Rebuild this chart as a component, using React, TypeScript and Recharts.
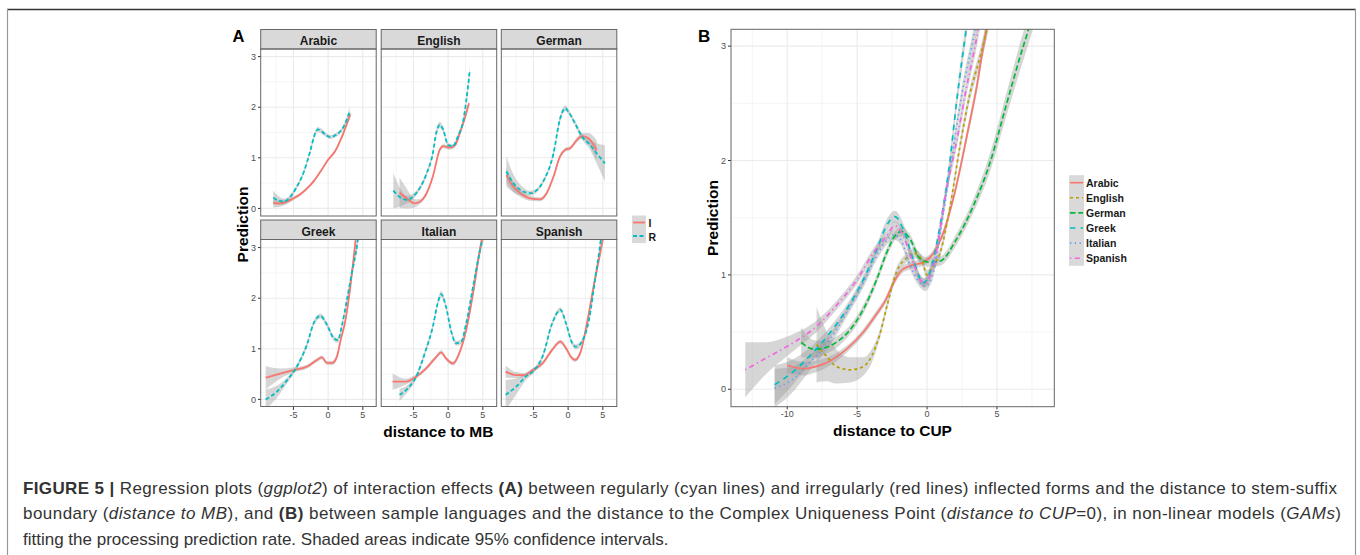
import React from 'react';
import { ComposedChart, Area, Line, XAxis, YAxis, CartesianGrid } from 'recharts';

// each row: [distance, fitted prediction, half width of the 95% band]
const arabicIrr = [[-7.9, 0.11, 0.09], [-7, 0.1, 0.07], [-6, 0.13, 0.05], [-5, 0.2, 0.04], [-4, 0.28, 0.03], [-3, 0.4, 0.03], [-2, 0.55, 0.03], [-1, 0.75, 0.03], [0, 0.96, 0.03], [1, 1.13, 0.03], [2, 1.42, 0.04], [3.2, 1.86, 0.07]];
const arabicReg = [[-7.9, 0.21, 0.14], [-7, 0.15, 0.08], [-6.4, 0.13, 0.06], [-5.5, 0.22, 0.04], [-4.5, 0.43, 0.04], [-3.5, 0.72, 0.04], [-2.6, 1.12, 0.04], [-1.9, 1.47, 0.05], [-1.5, 1.56, 0.05], [-0.9, 1.52, 0.05], [-0.3, 1.45, 0.04], [0.3, 1.41, 0.04], [1.1, 1.45, 0.04], [2.3, 1.63, 0.05], [3.1, 1.91, 0.1]];
const englishIrr = [[-7, 0.31, 0.3], [-6, 0.2, 0.2], [-4.8, 0.1, 0.08], [-4.1, 0.13, 0.05], [-3.1, 0.3, 0.04], [-2.2, 0.63, 0.04], [-1.2, 1.16, 0.04], [-0.7, 1.23, 0.04], [0.2, 1.2, 0.04], [1, 1.25, 0.04], [1.7, 1.49, 0.04], [2.4, 1.78, 0.05], [3, 2.08, 0.07]];
const englishReg = [[-7.9, 0.35, 0.35], [-6.7, 0.2, 0.15], [-6, 0.17, 0.08], [-4.6, 0.3, 0.05], [-3.1, 0.69, 0.05], [-2.2, 1.09, 0.05], [-1.7, 1.5, 0.06], [-1.2, 1.65, 0.06], [-0.7, 1.55, 0.05], [0, 1.25, 0.04], [0.7, 1.23, 0.04], [1.4, 1.42, 0.05], [2.2, 1.75, 0.06], [2.6, 2.11, 0.08], [3.1, 2.7, 0.12]];
const germanIrr = [[-8.9, 0.66, 0.15], [-7.9, 0.43, 0.1], [-6.9, 0.3, 0.07], [-5.5, 0.2, 0.05], [-4, 0.18, 0.04], [-3.1, 0.3, 0.04], [-2.1, 0.63, 0.04], [-1.2, 1.02, 0.04], [-0.4, 1.16, 0.04], [0.3, 1.19, 0.04], [1.25, 1.35, 0.05], [2, 1.43, 0.06], [2.9, 1.39, 0.1], [4.1, 1.15, 0.2]];
const germanReg = [[-8.9, 0.73, 0.3], [-7.9, 0.5, 0.18], [-6.4, 0.33, 0.08], [-5.5, 0.3, 0.05], [-4.5, 0.36, 0.04], [-3.6, 0.53, 0.04], [-2.1, 1.09, 0.05], [-1.2, 1.75, 0.06], [-0.4, 1.98, 0.06], [0, 1.92, 0.05], [1, 1.68, 0.05], [2, 1.42, 0.06], [3.2, 1.25, 0.1], [4.1, 1.09, 0.2], [5.3, 0.89, 0.36]];
const greekIrr = [[-9, 0.43, 0.23], [-6.9, 0.51, 0.1], [-5, 0.58, 0.05], [-3, 0.65, 0.04], [-1.6, 0.78, 0.04], [-0.9, 0.83, 0.04], [-0.15, 0.72, 0.04], [0.6, 0.72, 0.04], [1.3, 0.86, 0.05], [1.8, 1.17, 0.05], [2.5, 1.57, 0.06], [3.2, 2.23, 0.08], [3.9, 3.08, 0.12], [4.2, 3.5, 0.15]];
const greekReg = [[-9, 0.0, 0.2], [-7.4, 0.15, 0.12], [-5.9, 0.38, 0.06], [-4.5, 0.65, 0.05], [-3, 1.1, 0.05], [-2.1, 1.5, 0.05], [-1.1, 1.65, 0.05], [-0.15, 1.47, 0.05], [0.8, 1.21, 0.05], [1.4, 1.17, 0.05], [2, 1.47, 0.06], [2.7, 1.96, 0.07], [3.4, 2.49, 0.1], [4.2, 3.08, 0.12], [4.5, 3.4, 0.15]];
const italianIrr = [[-8, 0.35, 0.16], [-6.1, 0.35, 0.06], [-4.6, 0.45, 0.04], [-3.2, 0.61, 0.04], [-1.7, 0.84, 0.04], [-1, 0.93, 0.04], [-0.3, 0.81, 0.04], [0.7, 0.71, 0.04], [1.6, 0.91, 0.05], [2.6, 1.37, 0.06], [3.6, 2.1, 0.08], [4.5, 2.89, 0.1], [5.2, 3.4, 0.12]];
const italianReg = [[-7, 0.09, 0.12], [-6.1, 0.18, 0.08], [-4.6, 0.45, 0.05], [-3.2, 0.98, 0.05], [-2.2, 1.44, 0.05], [-1.5, 1.9, 0.06], [-1, 2.08, 0.06], [-0.3, 1.83, 0.05], [0.4, 1.37, 0.05], [1.15, 1.11, 0.05], [1.9, 1.14, 0.05], [2.6, 1.5, 0.06], [3.6, 2.23, 0.08], [4.5, 2.89, 0.1], [5.2, 3.3, 0.12]];
const spanishIrr = [[-9, 0.55, 0.12], [-7.5, 0.48, 0.06], [-6.3, 0.48, 0.04], [-5.1, 0.58, 0.04], [-3.7, 0.71, 0.04], [-2.3, 0.98, 0.04], [-1.1, 1.14, 0.04], [-0.3, 1.01, 0.04], [0.4, 0.84, 0.04], [1, 0.78, 0.04], [1.8, 0.94, 0.05], [2.8, 1.57, 0.06], [3.75, 2.29, 0.08], [4.7, 2.95, 0.1], [5.3, 3.4, 0.12]];
const spanishReg = [[-9, 0.09, 0.3], [-7.5, 0.25, 0.16], [-6.1, 0.45, 0.07], [-5.1, 0.55, 0.05], [-3.7, 0.84, 0.05], [-2.3, 1.5, 0.05], [-1.1, 1.77, 0.05], [-0.3, 1.5, 0.05], [0.6, 1.11, 0.05], [1.1, 1.04, 0.05], [2.1, 1.17, 0.05], [3, 1.57, 0.06], [4, 2.49, 0.08], [4.7, 3.15, 0.1], [4.9, 3.4, 0.12]];

// panel B: one smooth per language against distance to CUP
const cupArabic = [[-10, 0.21, 0.07], [-8.85, 0.18, 0.06], [-7.9, 0.2, 0.05], [-6.9, 0.25, 0.04], [-5.75, 0.35, 0.03], [-4.55, 0.5, 0.03], [-3.6, 0.66, 0.03], [-3, 0.77, 0.03], [-2.4, 0.93, 0.03], [-1.9, 1.03, 0.03], [-1.2, 1.08, 0.03], [-0.26, 1.11, 0.03], [0.45, 1.19, 0.03], [1.17, 1.37, 0.03], [2.1, 1.78, 0.04], [2.84, 2.21, 0.05], [3.56, 2.65, 0.06], [4.03, 3.0, 0.07], [4.5, 3.3, 0.08]];
const cupEnglish = [[-7.9, 0.39, 0.33], [-7.2, 0.29, 0.22], [-6.5, 0.2, 0.15], [-5.5, 0.17, 0.11], [-4.55, 0.2, 0.08], [-3.96, 0.29, 0.06], [-3.4, 0.47, 0.04], [-2.8, 0.76, 0.04], [-2.2, 1.02, 0.04], [-1.45, 1.15, 0.04], [-1, 1.19, 0.04], [-0.4, 1.14, 0.04], [0, 1.0, 0.04], [0.33, 1.06, 0.04], [0.93, 1.19, 0.04], [1.65, 1.6, 0.04], [2.36, 2.13, 0.05], [3.08, 2.59, 0.06], [3.8, 2.91, 0.07], [4.27, 3.15, 0.08], [4.5, 3.3, 0.08]];
const cupGerman = [[-9, 0.41, 0.13], [-8.1, 0.35, 0.08], [-7.4, 0.36, 0.06], [-6.5, 0.41, 0.05], [-5.5, 0.52, 0.04], [-4.55, 0.7, 0.04], [-3.6, 0.96, 0.04], [-2.9, 1.19, 0.04], [-2.3, 1.34, 0.04], [-1.8, 1.38, 0.04], [-1.2, 1.31, 0.04], [-0.5, 1.14, 0.04], [0.2, 1.11, 0.04], [0.93, 1.12, 0.04], [2.1, 1.31, 0.05], [3.3, 1.6, 0.06], [4.5, 1.98, 0.08], [5.7, 2.5, 0.1], [6.66, 2.91, 0.12], [7.26, 3.15, 0.13], [7.6, 3.3, 0.14]];
const cupGreek = [[-10.9, 0.04, 0.17], [-9.8, 0.13, 0.12], [-8.4, 0.29, 0.07], [-6.9, 0.5, 0.05], [-5.75, 0.7, 0.04], [-4.55, 0.96, 0.04], [-3.6, 1.22, 0.04], [-2.9, 1.43, 0.05], [-2.3, 1.51, 0.05], [-1.7, 1.4, 0.05], [-1, 1.14, 0.04], [-0.26, 0.93, 0.04], [0.2, 1.02, 0.04], [0.93, 1.43, 0.05], [1.65, 2.01, 0.06], [2.1, 2.5, 0.07], [2.5, 2.88, 0.08], [2.8, 3.15, 0.09], [3.0, 3.35, 0.1]];
const cupItalian = [[-10.9, 0.01, 0.17], [-9.8, 0.07, 0.12], [-8.4, 0.23, 0.07], [-6.9, 0.44, 0.05], [-5.75, 0.67, 0.04], [-4.55, 0.93, 0.04], [-3.6, 1.17, 0.04], [-2.9, 1.3, 0.04], [-2.4, 1.35, 0.04], [-1.9, 1.31, 0.04], [-1.2, 1.08, 0.04], [-0.5, 0.93, 0.04], [-0.14, 0.9, 0.04], [0.45, 1.02, 0.04], [1.17, 1.54, 0.05], [1.9, 2.13, 0.06], [2.6, 2.65, 0.07], [3.2, 3.0, 0.08], [3.6, 3.25, 0.09]];
const cupSpanish = [[-13, 0.17, 0.24], [-11.7, 0.26, 0.15], [-9.8, 0.39, 0.08], [-7.9, 0.55, 0.05], [-6.5, 0.73, 0.04], [-5, 0.96, 0.04], [-3.85, 1.19, 0.04], [-2.9, 1.34, 0.04], [-2.3, 1.43, 0.04], [-1.7, 1.34, 0.04], [-1.1, 1.14, 0.04], [-0.5, 0.96, 0.04], [-0.14, 0.93, 0.04], [0.45, 1.08, 0.04], [1.4, 1.75, 0.05], [2.1, 2.16, 0.06], [2.84, 2.65, 0.07], [3.44, 3.0, 0.08], [3.8, 3.25, 0.09]];

const facetNames = ['Arabic', 'English', 'German', 'Greek', 'Italian', 'Spanish'];
const facetIrr = [arabicIrr, englishIrr, germanIrr, greekIrr, italianIrr, spanishIrr];
const facetReg = [arabicReg, englishReg, germanReg, greekReg, italianReg, spanishReg];
const cupSeries = [cupArabic, cupEnglish, cupGerman, cupGreek, cupItalian, cupSpanish];

const yTicks = [0, 1, 2, 3];
const yMinor = [0.5, 1.5, 2.5];
const xTicksA = [-5, 0, 5];
const xMinorA = [-7.5, -2.5, 2.5];
const xTicksB = [-10, -5, 0, 5];
const xMinorB = [-12.5, -7.5, -2.5, 2.5, 7.5];

const Y_DOMAIN = [-0.15, 3.15];
const X_DOMAIN_A = [-9.67, 6.97];
const X_DOMAIN_B = [-14.02, 9.1];

const RED = '#F8766D';
const CYAN = '#00BFC4';
const LANG_COLORS = ['#F8766D', '#B79F00', '#00BA38', '#00BFC4', '#619CFF', '#F564E3'];
const LANG_DASH = [undefined, '3 3', '5.5 2.8', '5.5 5', '1.3 3.5', '1.3 3.5 5 3.5'];
const FONT = "'Liberation Sans', Arial, Helvetica, sans-serif";

const toData = (rows: number[][]) => rows.map(([x, y, se]) => ({ x, y, band: [y - se, y + se] }));

// column / row origins of the small multiples in panel A
const colLeft = [260.7, 381.2, 501.3];
const rowTop = [49, 239.5];
const PW = 115.5;
const PH = 167;
const B = { left: 731, top: 29.3, w: 323.3, h: 377.4 };

type Series = { data: any[]; color: string; dash?: string };

function PanelChart({ left, top, w, h, xDomain, xTicks, xMinor, showX, showY, series, lw }: any) {
  const YW = 20;
  const XH = 18;
  const cw = w + (showY ? YW : 0);
  const ch = h + (showX ? XH : 0);
  const tickStyle = { fontSize: 9, fill: '#4D4D4D' };
  return (
    <div style={{ position: 'absolute', left: left - (showY ? YW : 0), top, width: cw, height: ch }}>
      <ComposedChart width={cw} height={ch} margin={{ top: 0, right: 0, bottom: 0, left: 0 }}>
        <CartesianGrid horizontalValues={yMinor} verticalValues={xMinor} stroke="#F1F1F1" strokeWidth={0.7} />
        <CartesianGrid horizontalValues={yTicks} verticalValues={xTicks} stroke="#EBEBEB" strokeWidth={1.1} />
        <XAxis type="number" dataKey="x" domain={xDomain} ticks={xTicks} interval={0} allowDataOverflow hide={!showX}
          height={XH} axisLine={false} tickSize={3} tickMargin={1.5} tickLine={{ stroke: '#333' }} tick={tickStyle} />
        <YAxis type="number" domain={Y_DOMAIN} ticks={yTicks} interval={0} allowDataOverflow hide={!showY}
          width={YW} axisLine={false} tickSize={3} tickMargin={2} tickLine={{ stroke: '#333' }} tick={tickStyle} />
        {series.map((s: Series, i: number) => (
          <Area key={'band' + i} data={s.data} dataKey="band" type="monotone" stroke="none"
            fill="#999999" fillOpacity={0.4} isAnimationActive={false} />
        ))}
        {series.map((s: Series, i: number) => (
          <Line key={'fit' + i} data={s.data} dataKey="y" type="monotone" stroke={s.color}
            strokeWidth={lw} strokeDasharray={s.dash} dot={false} isAnimationActive={false} />
        ))}
      </ComposedChart>
    </div>
  );
}

export default function App() {
  return (
    <div style={{ position: 'absolute', left: 0, top: 0, width: 1360, height: 555, background: '#fff', fontFamily: FONT, overflow: 'hidden' }}>
      {facetNames.map((name, i) => {
        const col = i % 3;
        const row = Math.floor(i / 3);
        return (
          <PanelChart key={name} left={colLeft[col]} top={rowTop[row]} w={PW} h={PH}
            xDomain={X_DOMAIN_A} xTicks={xTicksA} xMinor={xMinorA}
            showX={row === 1} showY={col === 0} lw={1.8}
            series={[
              { data: toData(facetIrr[i]), color: RED },
              { data: toData(facetReg[i]), color: CYAN, dash: '4 2.5' },
            ]} />
        );
      })}
      <PanelChart left={B.left} top={B.top} w={B.w} h={B.h}
        xDomain={X_DOMAIN_B} xTicks={xTicksB} xMinor={xMinorB} showX showY lw={1.7}
        series={cupSeries.map((rows, i) => ({ data: toData(rows), color: LANG_COLORS[i], dash: LANG_DASH[i] }))} />

      <svg width={1360} height={555} style={{ position: 'absolute', left: 0, top: 0, pointerEvents: 'none' }} fontFamily={FONT}>
        {/* figure frame */}
        <line x1={7} x2={1356} y1={9.5} y2={9.5} stroke="#333" strokeWidth={1.5} />
        <line x1={7.5} x2={7.5} y1={9} y2={555} stroke="#999" strokeWidth={1.2} />
        <line x1={1355.5} x2={1355.5} y1={9} y2={555} stroke="#999" strokeWidth={1.2} />

        <text x={232.5} y={41.7} fontSize={16.5} fontWeight="bold" fill="#000">A</text>
        <text x={698} y={41.7} fontSize={17} fontWeight="bold" fill="#000">B</text>

        {facetNames.map((name, i) => {
          const x = colLeft[i % 3];
          const y = rowTop[Math.floor(i / 3)];
          return (
            <g key={name}>
              <rect x={x} y={y - 19.5} width={PW} height={19.5} fill="#D9D9D9" stroke="#666" strokeWidth={1} />
              <text x={x + PW / 2} y={y - 4} textAnchor="middle" fontSize={12} fontWeight="bold" fill="#1A1A1A">{name}</text>
              <rect x={x} y={y} width={PW} height={PH} fill="none" stroke="#666" strokeWidth={1} />
            </g>
          );
        })}
        <rect x={B.left} y={B.top} width={B.w} height={B.h} fill="none" stroke="#666" strokeWidth={1} />

        {/* axis titles */}
        <text transform="translate(248.3,224.5) rotate(-90)" textAnchor="middle" fontSize={15.5} fontWeight="bold" fill="#000">Prediction</text>
        <text x={438.3} y={436.5} textAnchor="middle" fontSize={15.5} fontWeight="bold" fill="#000">distance to MB</text>
        <text transform="translate(718.3,218) rotate(-90)" textAnchor="middle" fontSize={15.5} fontWeight="bold" fill="#000">Prediction</text>
        <text x={892.5} y={436} textAnchor="middle" fontSize={15.5} fontWeight="bold" fill="#000">distance to CUP</text>

        {/* legend A */}
        <rect x={632} y={215.5} width={14} height={27.6} fill="#D9D9D9" />
        <line x1={633} x2={645} y1={222.5} y2={222.5} stroke={RED} strokeWidth={1.8} />
        <line x1={633} x2={645} y1={236} y2={236} stroke={CYAN} strokeWidth={1.8} strokeDasharray="4 2.5" />
        <text x={648.5} y={226.7} fontSize={10.5} fontWeight="bold" fill="#1A1A1A">I</text>
        <text x={648.5} y={240.7} fontSize={10.5} fontWeight="bold" fill="#1A1A1A">R</text>

        {/* legend B */}
        <rect x={1069} y={175.2} width={15} height={90.6} fill="#D9D9D9" />
        {facetNames.map((name, i) => (
          <g key={'lg' + name}>
            <line x1={1070} x2={1083} y1={182.7 + i * 15.1} y2={182.7 + i * 15.1} stroke={LANG_COLORS[i]} strokeWidth={1.6} strokeDasharray={LANG_DASH[i]} />
            <text x={1086} y={186.5 + i * 15.1} fontSize={10.5} fontWeight="bold" fill="#1A1A1A">{name}</text>
          </g>
        ))}

        {/* caption */}
        <text x={23} y={493.5} fontSize={17} fill="#333" textLength={1314}>
          <tspan fontWeight="bold">{'FIGURE 5 |'}</tspan>
          <tspan>{' Regression plots ('}</tspan>
          <tspan fontStyle="italic">{'ggplot2'}</tspan>
          <tspan>{') of interaction effects '}</tspan>
          <tspan fontWeight="bold">{'(A)'}</tspan>
          <tspan>{' between regularly (cyan lines) and irregularly (red lines) inflected forms and the distance to stem-suffix'}</tspan>
        </text>
        <text x={23} y={519} fontSize={17} fill="#333" textLength={1318}>
          <tspan>{'boundary ('}</tspan>
          <tspan fontStyle="italic">{'distance to MB'}</tspan>
          <tspan>{'), and '}</tspan>
          <tspan fontWeight="bold">{'(B)'}</tspan>
          <tspan>{' between sample languages and the distance to the Complex Uniqueness Point ('}</tspan>
          <tspan fontStyle="italic">{'distance to CUP'}</tspan>
          <tspan>{'=0), in non-linear models ('}</tspan>
          <tspan fontStyle="italic">{'GAMs'}</tspan>
          <tspan>{')'}</tspan>
        </text>
        <text x={23} y={544.5} fontSize={17} fill="#333">
          fitting the processing prediction rate. Shaded areas indicate 95% confidence intervals.
        </text>
      </svg>
    </div>
  );
}
